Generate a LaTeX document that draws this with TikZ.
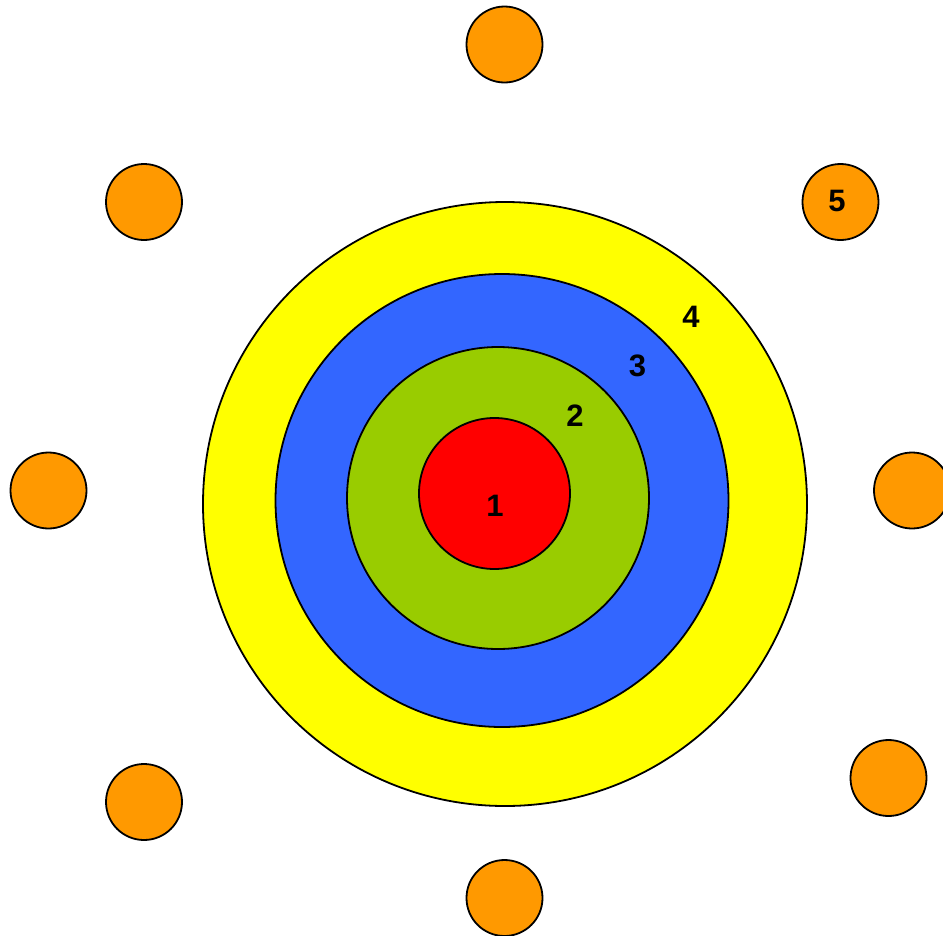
\documentclass[tikz,border=0pt]{standalone}
\usepackage{fontspec}
\setmainfont{Liberation Sans}
\definecolor{cyellow}{HTML}{FFFF00}
\definecolor{cblue}{HTML}{3366FF}
\definecolor{cgreen}{HTML}{99CC00}
\definecolor{cred}{HTML}{FF0000}
\definecolor{corange}{HTML}{FF9900}
\begin{document}
\begin{tikzpicture}[x=1pt,y=-1pt,
  ring/.style={circle, draw=black, line width=1.8pt, inner sep=0pt},
  dot/.style={circle, draw=black, line width=1.8pt, fill=corange, inner sep=0pt, minimum size=76pt},
  lbl/.style={font=\bfseries\fontsize{31}{32}\selectfont, inner sep=0pt}]
\useasboundingbox (0,0) rectangle (943,935);
\node[ring, fill=cyellow, minimum size=604pt] (r4) at (505,504) {};
\node[ring, fill=cblue, minimum size=453pt] (r3) at (502,500.5) {};
\node[ring, fill=cgreen, minimum size=302pt] (r2) at (498,498) {};
\node[ring, fill=cred, minimum size=151pt] (r1) at (494.5,493.5) {};
\node[dot] (o1) at (504.5,44.5) {};
\node[dot] (o2) at (144,202) {};
\node[dot] (o3) at (840.5,202) {};
\node[dot] (o4) at (48.5,490.5) {};
\node[dot] (o5) at (912,490.5) {};
\node[dot] (o6) at (144,802) {};
\node[dot] (o7) at (888.5,778) {};
\node[dot] (o8) at (504.5,898) {};
\node[lbl] (t1) at (495,506) {1};
\node[lbl] (t2) at (575,416) {2};
\node[lbl] (t3) at (637.5,366) {3};
\node[lbl] (t4) at (691,317) {4};
\node[lbl] (t5) at (837,201) {5};
\end{tikzpicture}
\end{document}
